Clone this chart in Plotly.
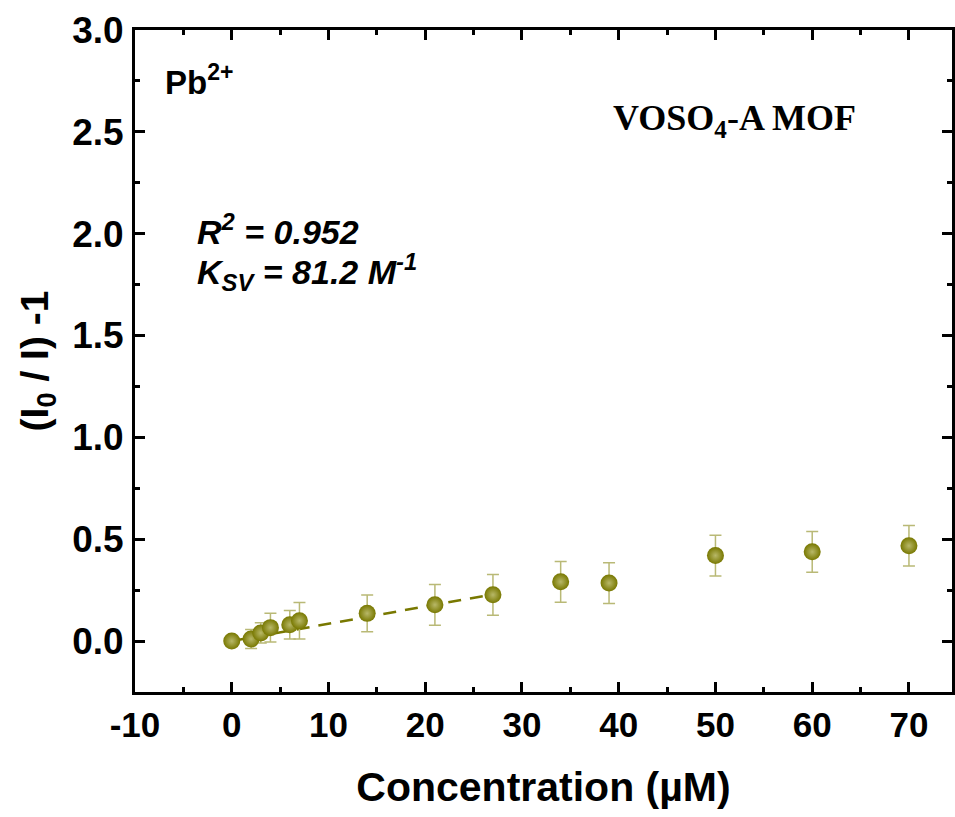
import plotly.graph_objects as go

# ---- data ----
conc = [0, 2, 3, 4, 6, 7, 14, 21, 27, 34, 39, 50, 60, 70]
resp = [0.0, 0.01, 0.04, 0.066, 0.08, 0.10, 0.136, 0.178, 0.227, 0.291, 0.285, 0.42, 0.438, 0.468]
err = [0.02, 0.047, 0.05, 0.07, 0.07, 0.09, 0.09, 0.10, 0.10, 0.10, 0.10, 0.10, 0.10, 0.10]
fit_slope = 0.0085
fit_intercept = 0.0
fit_range = [0, 27]

x_ticks = [-10, 0, 10, 20, 30, 40, 50, 60, 70]
y_ticks = [0.0, 0.5, 1.0, 1.5, 2.0, 2.5, 3.0]

OLIVE = "#787800"
ERR_COL = "#b9b976"
SANS = "Liberation Sans, Arial, sans-serif"
SERIF = "Liberation Serif, Times New Roman, serif"

fit_y = [fit_intercept + fit_slope * v for v in fit_range]

fig = go.Figure()
fig.add_trace(go.Scatter(
    x=fit_range, y=fit_y, mode="lines",
    line=dict(color=OLIVE, width=2.5, dash="13px,9px"),
    showlegend=False, hoverinfo="skip"))
fig.add_trace(go.Scatter(
    x=conc, y=resp, mode="markers",
    marker=dict(size=17, color=OLIVE, line=dict(width=0),
                gradient=dict(type="radial", color="#b8b868")),
    error_y=dict(type="data", array=err, visible=True, color=ERR_COL,
                 thickness=1.5, width=6),
    showlegend=False))

axis_common = dict(
    showline=True, linecolor="black", linewidth=3, mirror="allticks",
    ticks="inside", ticklen=10, tickwidth=3, tickcolor="black",
    showgrid=False, zeroline=False,
)

fig.update_xaxes(
    range=[-10, 74.45], tickvals=x_ticks, ticktext=[str(v) for v in x_ticks],
    tickfont=dict(family=SANS, size=35, color="black", weight="bold"),
    minor=dict(dtick=5, tick0=0, ticks="inside", ticklen=5, tickwidth=3, tickcolor="black"),
    title=dict(text="Concentration (µM)", font=dict(family=SANS, size=41, color="black", weight="bold"),
               standoff=30),
    ticklabelstandoff=0,
    **axis_common)
fig.update_yaxes(
    range=[-0.25, 3.0], tickvals=y_ticks, ticktext=[f"{v:.1f}" for v in y_ticks],
    tickfont=dict(family=SANS, size=37, color="black", weight="bold"),
    minor=dict(dtick=0.25, tick0=0, ticks="inside", ticklen=5, tickwidth=3, tickcolor="black"),
    title=dict(text="(I<sub>0</sub> / I) -1", font=dict(family=SANS, size=39, color="black", weight="bold"),
               standoff=12),
    ticklabelstandoff=1,
    **axis_common)

fig.add_annotation(xref="paper", yref="paper", x=0.034, y=0.924, xanchor="left", yanchor="middle",
                   text="Pb<sup>2+</sup>", showarrow=False,
                   font=dict(family=SANS, size=33, color="black", weight="bold"))
fig.add_annotation(xref="paper", yref="paper", x=0.734, y=0.864, xanchor="center", yanchor="middle",
                   text="VOSO<sub>4</sub>-A MOF", showarrow=False,
                   font=dict(family=SERIF, size=36, color="black", weight="bold"))
fig.add_annotation(xref="paper", yref="paper", x=0.073, y=0.698, xanchor="left", yanchor="middle",
                   text="<i>R<sup>2</sup> = 0.952</i>", showarrow=False,
                   font=dict(family=SANS, size=34, color="black", weight="bold"))
fig.add_annotation(xref="paper", yref="paper", x=0.073, y=0.634, xanchor="left", yanchor="middle",
                   text="<i>K<sub>SV</sub> = 81.2 M<sup>-1</sup></i>", showarrow=False,
                   font=dict(family=SANS, size=34, color="black", weight="bold"))

fig.update_layout(
    width=955, height=817,
    margin=dict(l=135, r=0, t=30, b=125),
    paper_bgcolor="white", plot_bgcolor="white",
)

fig.write_html("out.html")
